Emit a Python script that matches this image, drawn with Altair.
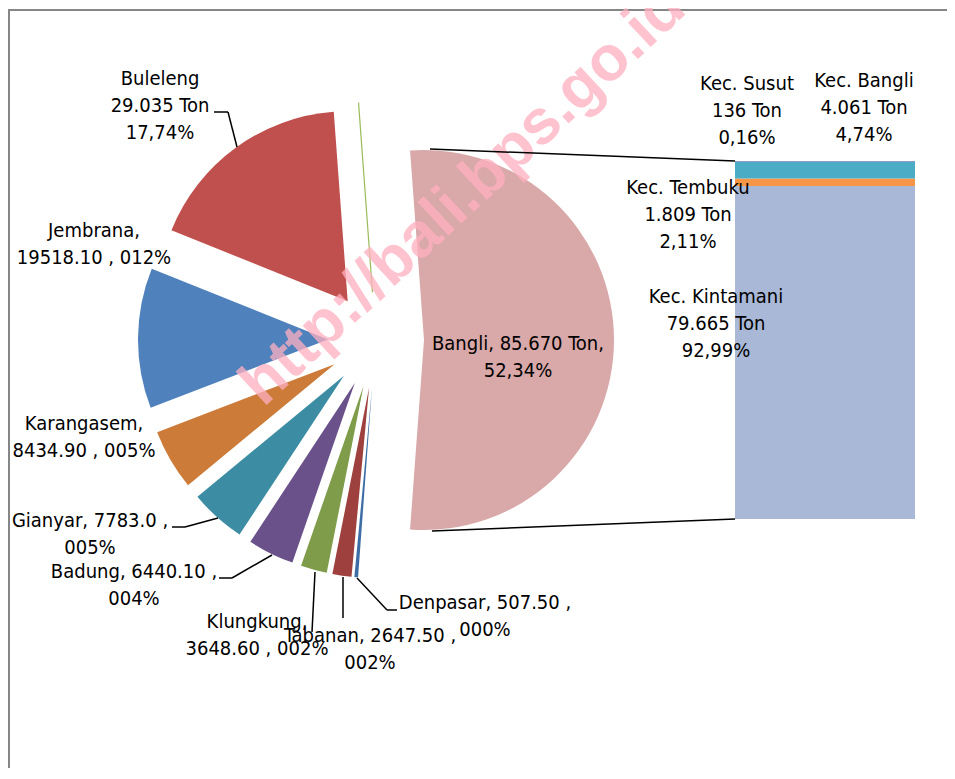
import altair as alt
import pandas as pd

# ---- data: pie (kabupaten) ----
kab_names = ["Bangli", "Denpasar", "Tabanan", "Klungkung", "Badung", "Gianyar",
             "Karangasem", "Jembrana", "Buleleng", "-"]
kab_values = [85670, 507.50, 2647.50, 3648.60, 6440.10, 7783.0, 8434.90, 19518.10, 29035, 0]
kab_colors = ["#D9A8A8", "#3E6DA6", "#9E413E", "#7F9C4A", "#6A5189", "#3C8DA3",
              "#CC7B38", "#4F81BD", "#C0504D", "#FFFFFF"]
kab_labels = [
    "Bangli, 85.670 Ton,\n52,34%",
    "Denpasar, 507.50 ,\n000%",
    "Tabanan, 2647.50 ,\n002%",
    "Klungkung,\n3648.60 , 002%",
    "Badung, 6440.10 ,\n004%",
    "Gianyar, 7783.0 ,\n005%",
    "Karangasem,\n8434.90 , 005%",
    "Jembrana,\n19518.10 , 012%",
    "Buleleng\n29.035 Ton\n17,74%",
]

# ---- data: bar (kecamatan in Bangli) ----
kec_names = ["Kec. Kintamani", "Kec. Tembuku", "Kec. Bangli", "Kec. Susut"]
kec_values = [79665, 1809, 4061, 136]
kec_colors = ["#A9B8D6", "#F79646", "#4BACC6", "#8064A2"]
kec_labels = [
    "Kec. Kintamani\n79.665 Ton\n92,99%",
    "Kec. Tembuku\n1.809 Ton\n2,11%",
    "Kec. Bangli\n4.061 Ton\n4,74%",
    "Kec. Susut\n136 Ton\n0,16%",
]

# ---- layout (pixels in view) ----
CX, CY, EXPLODE, R = 368, 332, 48, 190
W, H = 939, 760
FONT = "Liberation Sans Narrow, Arial Narrow, DejaVu Sans Condensed, sans-serif"
FS = 20

kab_label_pos = [(510, 342), (477, 601), (362, 634), (249, 620), (126, 570), (82, 519),
                 (76, 422), (86, 229), (152, 77)]
kec_label_pos = [(708, 295), (680, 186), (856, 79), (739, 82)]

pie_df = pd.DataFrame({
    "name": kab_names, "value": kab_values, "ord": list(range(len(kab_names))),
    "color": kab_colors,
    "stroke": ["transparent"] * (len(kab_names) - 1) + ["#9BBB59"],
})

pie = alt.Chart(pie_df).transform_joinaggregate(
    total="sum(value)", big="max(value)"
).transform_window(
    cum="sum(value)", sort=[alt.SortField("ord")], frame=[None, 0]
).transform_calculate(
    start="PI/2 - PI*datum.big/datum.total",
).transform_calculate(
    a1="datum.start + 2*PI*datum.cum/datum.total",
).transform_calculate(
    a0="datum.a1 - 2*PI*datum.value/datum.total",
).transform_calculate(
    mid="(datum.a0 + datum.a1)/2",
).transform_calculate(
    px=f"{CX} + {EXPLODE}*sin(datum.mid)",
    py=f"{CY} - {EXPLODE}*cos(datum.mid)",
).mark_arc(outerRadius=R, strokeWidth=1.2).encode(
    x=alt.X("px:Q", scale=None, axis=None),
    y=alt.Y("py:Q", scale=None, axis=None),
    theta=alt.Theta("a0:Q", scale=None, stack=None),
    theta2=alt.Theta2("a1:Q"),
    fill=alt.Fill("color:N", scale=None),
    stroke=alt.Stroke("stroke:N", scale=None),
)

bar_df = pd.DataFrame({"name": kec_names, "value": kec_values,
                       "ord": list(range(len(kec_names))), "color": kec_colors})
bar = alt.Chart(bar_df).transform_stack(
    stack="value", groupby=[], as_=["v0", "v1"], sort=[alt.SortField("ord")]
).mark_rect().encode(
    x=alt.value(727), x2=alt.value(907),
    y=alt.Y("v0:Q", scale=alt.Scale(domain=[0, sum(kec_values)], range=[511, 153]),
            axis=None),
    y2="v1:Q",
    fill=alt.Fill("color:N", scale=None),
)

lab_df = pd.DataFrame({
    "text": kab_labels + kec_labels,
    "lx": [p[0] for p in kab_label_pos + kec_label_pos],
    "ly": [p[1] for p in kab_label_pos + kec_label_pos],
})
labels = alt.Chart(lab_df).mark_text(
    font=FONT, fontSize=FS, lineHeight=27, lineBreak="\n", align="center",
    baseline="alphabetic", color="#000000"
).encode(
    x=alt.X("lx:Q", scale=None, axis=None),
    y=alt.Y("ly:Q", scale=None, axis=None),
    text="text:N",
)

# leader lines and connector lines
seg = [
    (206, 104, 220, 104), (220, 104, 229, 139),          # Buleleng
    (164, 519, 177, 519), (177, 519, 210, 510),          # Gianyar
    (211, 570, 224, 570), (224, 570, 264, 547),          # Badung
    (307, 564, 304, 624),                                # Klungkung
    (335, 569, 335, 610),                                # Tabanan
    (349, 570, 379, 602), (379, 602, 389, 602),          # Denpasar
    (422, 141, 727, 153), (424, 523, 727, 511),          # connectors
]
seg_df = pd.DataFrame(seg, columns=["x", "y", "x2", "y2"])
segs = alt.Chart(seg_df).mark_rule(color="#000000", strokeWidth=1.5).encode(
    x=alt.X("x:Q", scale=None, axis=None), y=alt.Y("y:Q", scale=None, axis=None),
    x2="x2:Q", y2="y2:Q",
)

wm = alt.Chart(pd.DataFrame({"t": ["http://bali.bps.go.id"]})).mark_text(
    font="Liberation Sans, Arial, sans-serif", fontWeight="bold", fontSize=63,
    angle=317, align="center", baseline="middle", color="#FFB0C0", opacity=0.75
).encode(x=alt.value(455), y=alt.value(188), text="t:N")

frame_top = alt.Chart(pd.DataFrame({"a": [0]})).mark_rule(color="#868686", strokeWidth=2).encode(
    x=alt.value(0), x2=alt.value(W), y=alt.value(2))
frame_left = alt.Chart(pd.DataFrame({"a": [0]})).mark_rule(color="#868686", strokeWidth=2).encode(
    x=alt.value(1), y=alt.value(2), y2=alt.value(H))

chart = alt.layer(frame_top, frame_left, pie, bar, wm, segs, labels).properties(
    width=W, height=H, autosize=alt.AutoSizeParams(type="none"), padding=0,
    background="white"
).configure_view(stroke=None)

chart.save("out.html", embed_options={"renderer": "svg", "actions": False})
